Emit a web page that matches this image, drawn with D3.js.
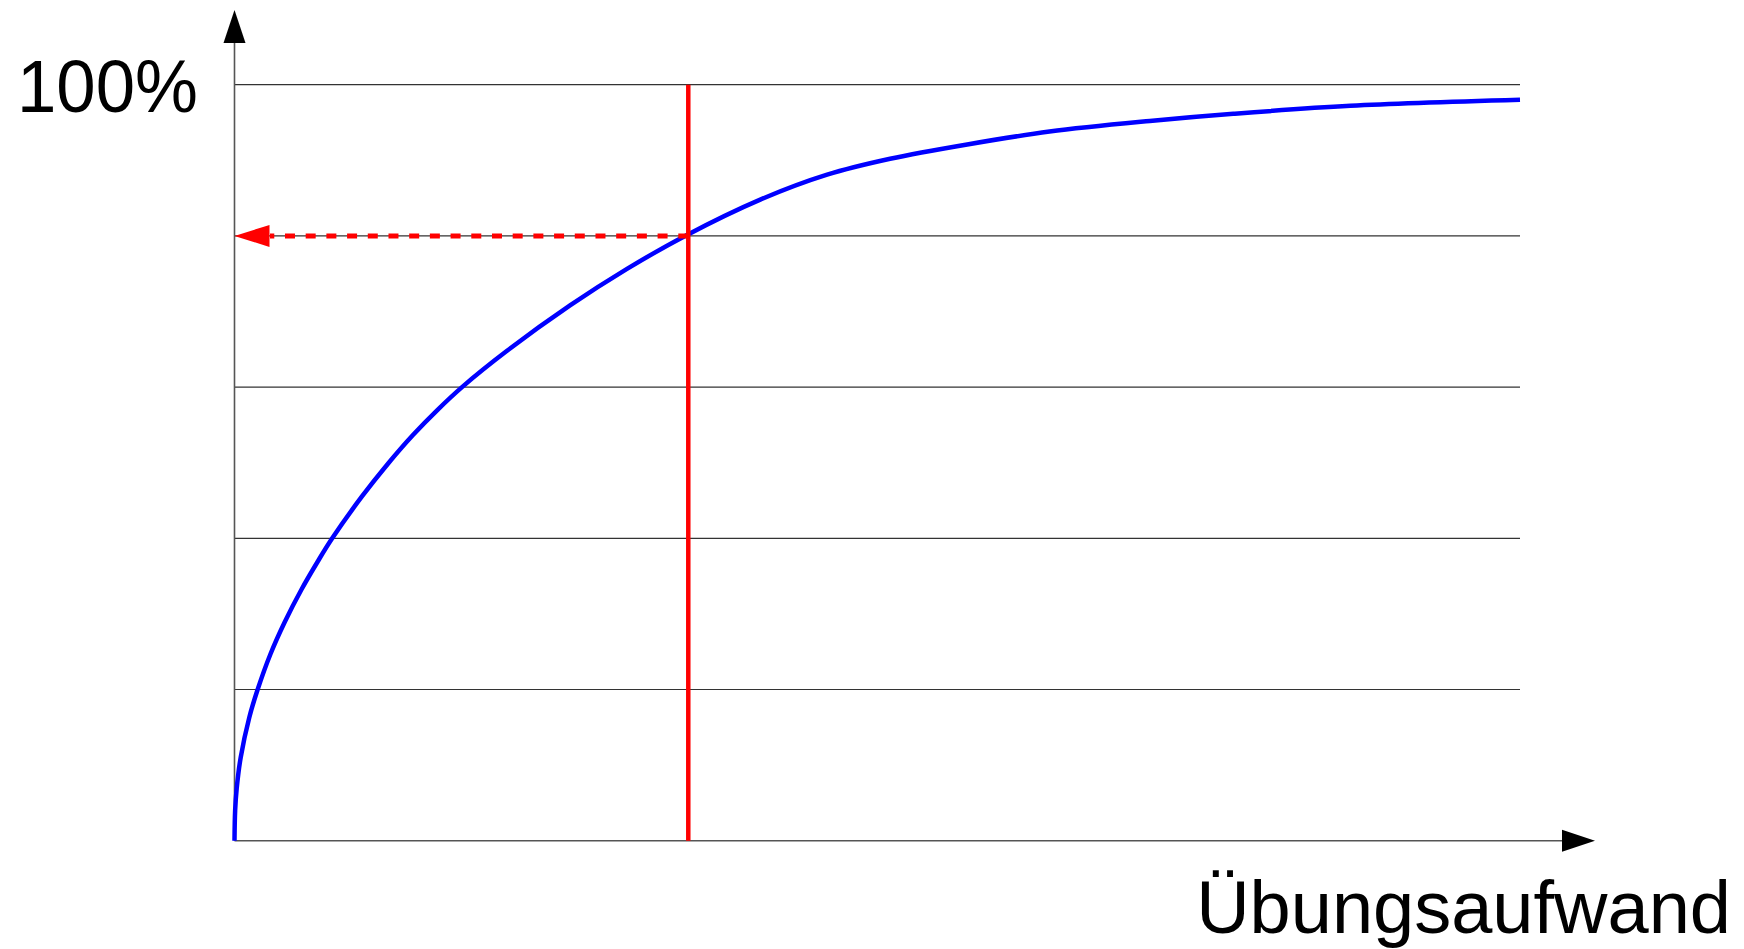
<!DOCTYPE html>
<html>
<head>
<meta charset="utf-8">
<script src="https://cdn.jsdelivr.net/npm/d3@7"></script>
<style>
  html, body { margin: 0; padding: 0; background: #fff; }
  svg { display: block; }
</style>
</head>
<body>
<svg id="chart" width="1744" height="949"></svg>
<script>
// ---- data ----
const effort  = [0, 0.05, 0.17, 0.48, 1.15, 1.8, 2.8, 3.9, 5.2, 6.5, 7.6, 9.9, 12, 13.9, 15.8, 17.7, 21.2, 26.1, 30.5, 35.05, 40.9, 46.1, 51, 57, 63.4, 71.2, 77.7, 86.8, 100];
const mastery = [0, 4.0, 6.9, 11.0, 16.3, 20, 24.7, 28.9, 33.2, 37.0, 40, 45.5, 50.0, 53.7, 57.0, 60, 64.8, 70.8, 75.6, 80, 84.8, 88.1, 90.2, 92.1, 93.8, 95.2, 96.15, 97.2, 98.0];
const gridTicks = [20, 40, 60, 80, 100];
const markerEffort = 35.3;
const markerLevel = 80;
const yLabel = "100%";
const xLabel = "Übungsaufwand";

// ---- layout ----
const svg = d3.select("#chart");
const x = d3.scaleLinear().domain([0, 100]).range([234.5, 1520]);
const y = d3.scaleLinear().domain([0, 100]).range([840.7, 84.7]);
const font = "'Liberation Sans', Arial, sans-serif";

// gridlines
svg.append("g").selectAll("line").data(gridTicks).join("line")
  .attr("x1", x(0)).attr("x2", x(100))
  .attr("y1", d => y(d)).attr("y2", d => y(d))
  .attr("stroke", "#333").attr("stroke-width", 1.2);

// axes
const axisColor = "#555";
svg.append("line").attr("x1", x(0)).attr("x2", 1565).attr("y1", y(0)).attr("y2", y(0))
  .attr("stroke", axisColor).attr("stroke-width", 1.6);
svg.append("line").attr("x1", x(0)).attr("x2", x(0)).attr("y1", y(0)).attr("y2", 40)
  .attr("stroke", axisColor).attr("stroke-width", 1.6);
// arrow heads
svg.append("path")
  .attr("d", `M${x(0)},10 L${x(0) - 11},43 L${x(0) + 11},43 Z`).attr("fill", "#000");
svg.append("path")
  .attr("d", `M1595,${y(0)} L1562,${y(0) - 11} L1562,${y(0) + 11} Z`).attr("fill", "#000");

// curve
const pts = effort.map((e, i) => [e, mastery[i]]);
svg.append("path")
  .datum(pts)
  .attr("d", d3.line().x(d => x(d[0])).y(d => y(d[1])).curve(d3.curveCatmullRom.alpha(0.5)))
  .attr("fill", "none").attr("stroke", "#0000ff").attr("stroke-width", 4.5);

// red vertical marker
svg.append("line")
  .attr("x1", x(markerEffort)).attr("x2", x(markerEffort))
  .attr("y1", y(0)).attr("y2", y(100))
  .attr("stroke", "#ff0000").attr("stroke-width", 4.5);

// red dashed arrow
svg.append("line")
  .attr("x1", x(markerEffort)).attr("x2", 270)
  .attr("y1", y(markerLevel)).attr("y2", y(markerLevel))
  .attr("stroke", "#ff0000").attr("stroke-width", 5)
  .attr("stroke-dasharray", "10 10.7");
svg.append("path")
  .attr("d", `M${x(0)},${y(markerLevel)} L269.5,${y(markerLevel) - 11} L269.5,${y(markerLevel) + 11} Z`)
  .attr("fill", "#ff0000");

// labels
svg.append("text").attr("x", 17).attr("y", 112)
  .attr("font-family", font).attr("font-size", 75).attr("fill", "#000")
  .attr("textLength", 181).attr("lengthAdjust", "spacingAndGlyphs")
  .text(yLabel);
svg.append("text").attr("x", 1731).attr("y", 933).attr("text-anchor", "end")
  .attr("font-family", font).attr("font-size", 74).attr("fill", "#000")
  .text(xLabel);
</script>
</body>
</html>
